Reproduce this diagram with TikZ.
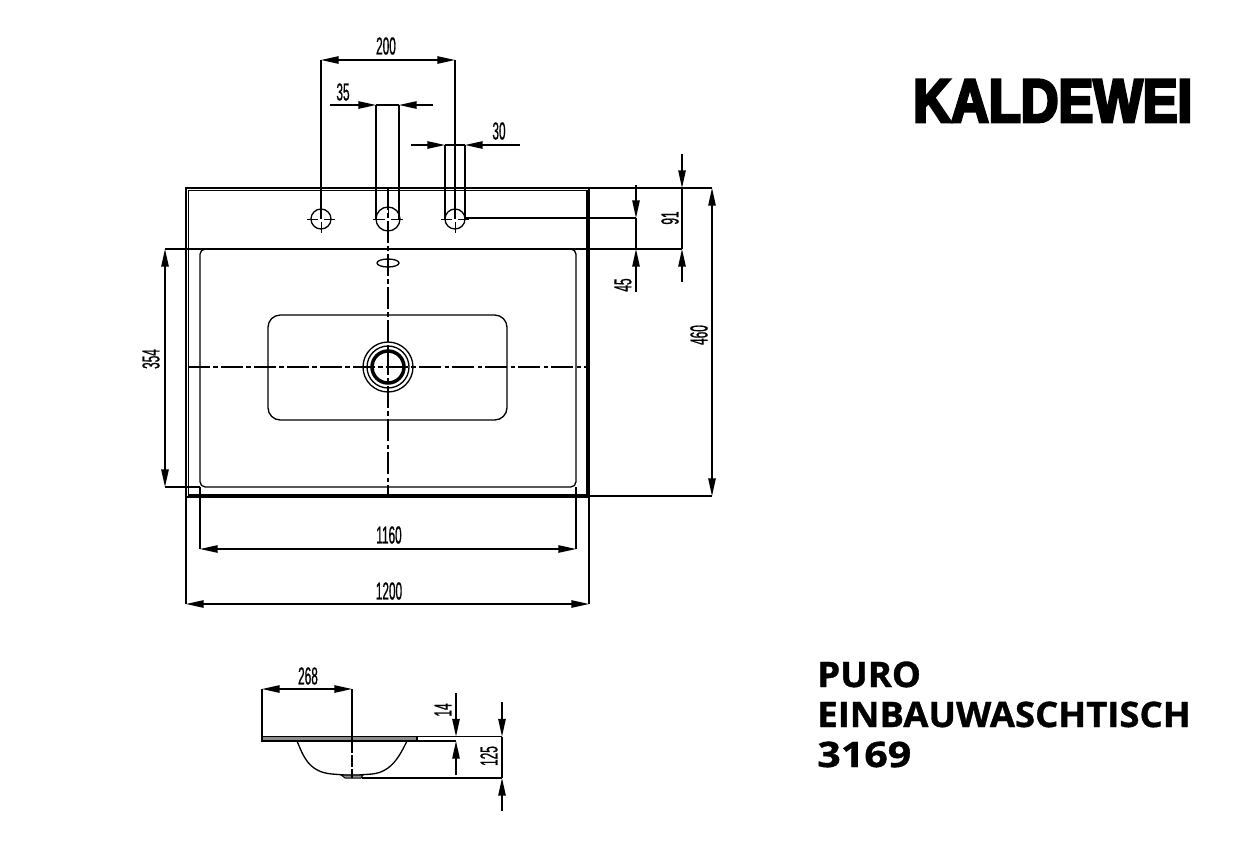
\documentclass[tikz,border=0pt]{standalone}
\usepackage{fontspec}
\usepackage{tikz}
\usetikzlibrary{arrows.meta}
\newfontfamily\dimfont[FakeStretch=0.48,FakeBold=0.6]{Liberation Sans}
\newfontfamily\titlefont[FakeStretch=1.038,FakeBold=1]{Open Sans Bold}
\newfontfamily\numfont[FakeStretch=1.17,FakeBold=1]{Open Sans Bold}
\newfontfamily\logofont[FakeBold=4.5,FakeStretch=0.85]{Liberation Sans Bold}
\tikzset{
    part/.style={line width=0.75pt},
    thin part/.style={line width=0.55pt},
    dimline/.style={line width=0.75pt, {Triangle[length=10pt,width=4.2pt]}-{Triangle[length=10pt,width=4.2pt]}},
    dimend/.style={line width=0.75pt, -{Triangle[length=10pt,width=4.2pt]}},
    helper/.style={line width=0.75pt},
    centre/.style={line width=0.6pt, dash pattern=on 12.5pt off 1.9pt on 2.5pt off 1.9pt},
    dimtext/.style={font=\dimfont\fontsize{14}{15}\selectfont, inner sep=0pt},
    titletext/.style={font=\titlefont\fontsize{20}{22}\selectfont, inner sep=0pt, anchor=base west}
}
\begin{document}
\begin{tikzpicture}[x=0.02cm, y=-0.02cm]
    \useasboundingbox (0,0) rectangle (1260,846);

    % Top view
    \draw[part] (186,188) rectangle (589,497);
    \draw[part] (188.5,190.5) rectangle (587,495);
    \draw[part, rounded corners=3pt] (200,249) rectangle (576,487);
    \draw[part, rounded corners=7pt] (268,315) rectangle (507,420);
    \node[circle, draw, part, fill=white, inner sep=0pt, minimum size=0.4cm] (holeL) at (321,219) {};
    \node[circle, draw, part, fill=white, inner sep=0pt, minimum size=0.48cm] (holeM) at (388,219) {};
    \node[circle, draw, part, fill=white, inner sep=0pt, minimum size=0.4cm] (holeR) at (455,219) {};
    \draw[part] (388,263) ellipse (11 and 4);
    \node[circle, draw, part, inner sep=0pt, minimum size=1cm] (drainA) at (388,367) {};
    \node[circle, draw, part, inner sep=0pt, minimum size=0.84cm] (drainB) at (388,367) {};
    \node[circle, draw, line width=2pt, inner sep=0pt, minimum size=0.64cm] (drainC) at (388,367) {};

    % Centre lines
    \draw[centre] (388,188) -- (388,496);
    \draw[centre] (188,367) -- (587,367);
    \foreach \cx/\r in {321/14, 455/14, 388/15} {
        \draw[thin part] (\cx-\r,219) -- (\cx-3,219) (\cx+3,219) -- (\cx+\r,219);
        \draw[thin part] (\cx,219-\r) -- (\cx,219-3) (\cx,219+3) -- (\cx,219+\r);
    }

    % Dimension points
    \coordinate (a1) at (321,60);
    \coordinate (a2) at (455,60);
    \coordinate (b0) at (330,105);
    \coordinate (b1) at (376,105);
    \coordinate (b2) at (399,105);
    \coordinate (b3) at (433,105);
    \coordinate (c0) at (411,145);
    \coordinate (c1) at (445,145);
    \coordinate (c2) at (465,145);
    \coordinate (c3) at (520,145);
    \coordinate (d0) at (636,185);
    \coordinate (d1) at (636,218);
    \coordinate (d2) at (636,249);
    \coordinate (d3) at (636,292);
    \coordinate (e0) at (682,154);
    \coordinate (e1) at (682,188);
    \coordinate (e2) at (682,249);
    \coordinate (e3) at (682,282);
    \coordinate (f1) at (712,188);
    \coordinate (f2) at (712,496);
    \coordinate (g1) at (165,249);
    \coordinate (g2) at (165,487);
    \coordinate (h1) at (200,549);
    \coordinate (h2) at (576,549);
    \coordinate (i1) at (186,604);
    \coordinate (i2) at (589,604);

    % Helper lines
    \draw[helper] (a1) -- (321,219);
    \draw[helper] (a2) -- (455,219);
    \draw[helper] (b1) -- (376,219);
    \draw[helper] (b2) -- (399,219);
    \draw[helper] (c1) -- (445,219);
    \draw[helper] (c2) -- (465,219);
    \draw[helper] (b1) -- (b2);
    \draw[helper] (c1) -- (c2);
    \draw[helper] (589,188) -- (f1);
    \draw[helper] (465,218) -- (d1);
    \draw[helper] (g1) -- (e2);
    \draw[helper] (g2) -- (200,487);
    \draw[helper] (589,496) -- (f2);
    \draw[helper] (200,487) -- (h1);
    \draw[helper] (576,487) -- (h2);
    \draw[helper] (186,496) -- (i1);
    \draw[helper] (589,496) -- (i2);

    % Dimensions
    \draw[dimline] (a1) -- (a2);
    \draw[dimend] (b0) -- (b1);
    \draw[dimend] (b3) -- (b2);
    \draw[dimend] (c0) -- (c1);
    \draw[dimend] (c3) -- (c2);
    \draw[dimend] (d0) -- (d1);
    \draw[dimend] (d3) -- (d2);
    \draw[dimend] (e0) -- (e1);
    \draw[dimend] (e3) -- (e2);
    \draw[helper] (e1) -- (e2);
    \draw[helper] (d1) -- (d2);
    \draw[dimline] (f1) -- (f2);
    \draw[dimline] (g1) -- (g2);
    \draw[dimline] (h1) -- (h2);
    \draw[dimline] (i1) -- (i2);

    % Labels
    \node[dimtext] (t200) at (386,46) {200};
    \node[dimtext] (t35) at (343,92) {35};
    \node[dimtext] (t30) at (499,131) {30};
    \node[dimtext, rotate=90] (t45) at (623,285) {45};
    \node[dimtext, rotate=90] (t91) at (670,218) {91};
    \node[dimtext, rotate=90] (t460) at (699,335) {460};
    \node[dimtext, rotate=90] (t354) at (151,359) {354};
    \node[dimtext] (t1160) at (389,535) {1160};
    \node[dimtext] (t1200) at (389,591) {1200};

    % Section
    \draw[part, fill=black!45] (262,736.5) rectangle (417,741);
    \draw[helper] (417,736.5) -- (502,736.5);
    \draw[helper] (417,741) -- (456,741);
    \draw[part] (297,741) .. controls (303,755) and (308,772) .. (332,774) -- (345,775) -- (358,775) -- (372,774) .. controls (392,772) and (400,755) .. (407,741);
    \draw[thin part, fill=black!45] (341,775) -- (363,775) -- (361,778) -- (345,778) -- cycle;
    \coordinate (j1) at (262,689);
    \coordinate (j2) at (352,689);
    \coordinate (k0) at (456,693);
    \coordinate (k1) at (456,736.5);
    \coordinate (k2) at (456,741);
    \coordinate (k3) at (456,775);
    \coordinate (l0) at (502,702);
    \coordinate (l1) at (502,736.5);
    \coordinate (l2) at (502,778);
    \coordinate (l3) at (502,811);
    \draw[helper] (j1) -- (262,737);
    \draw[helper] (j2) -- (352,741);
    \draw[helper, dash pattern=on 7pt off 1pt] (352,741) -- (352,778);
    \draw[helper] (362,778) -- (l2);
    \draw[dimline] (j1) -- (j2);
    \draw[dimend] (k0) -- (k1);
    \draw[dimend] (k3) -- (k2);
    \draw[dimend] (l0) -- (l1);
    \draw[dimend] (l3) -- (l2);
    \draw[helper] (l1) -- (l2);
    \node[dimtext] (t268) at (308,676) {268};
    \node[dimtext, rotate=90] (t14) at (443,710) {14};
    \node[dimtext, rotate=90] (t125) at (489,756) {125};

    % Title
    \node[font=\logofont\fontsize{35}{35}\selectfont, inner sep=0pt, anchor=base west] (logo) at (913,122) {KALDEWEI};
    \node[titletext] (puro) at (817,687) {PURO};
    \node[titletext] (type) at (817,727) {EINBAUWASCHTISCH};
    \node[titletext, font=\numfont\fontsize{20}{22}\selectfont] (number) at (817,767) {3169};
\end{tikzpicture}
\end{document}
